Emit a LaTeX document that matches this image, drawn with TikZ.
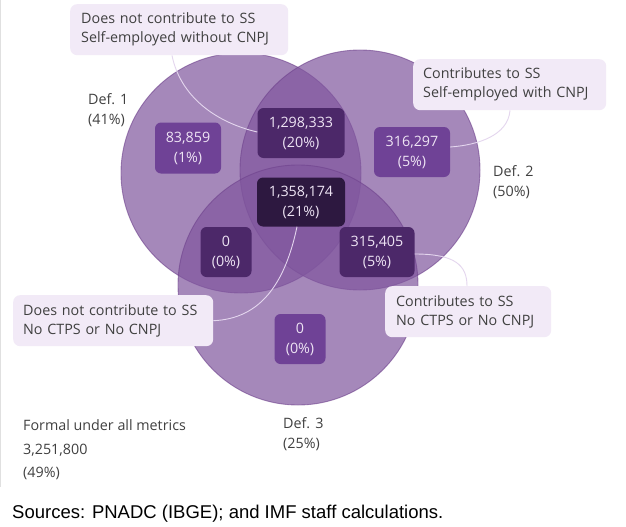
\documentclass[tikz,border=0pt]{standalone}
\usepackage{fontspec}
\setmainfont{Open Sans}
\newfontfamily\srcfont{Liberation Sans}
\usetikzlibrary{calc}
\definecolor{circfill}{RGB}{128,86,158}
\definecolor{circline}{RGB}{110,65,140}
\definecolor{boxA}{RGB}{111,66,150}
\definecolor{boxB}{RGB}{76,40,105}
\definecolor{boxC}{RGB}{45,24,64}
\definecolor{boxtext}{RGB}{238,228,244}
\definecolor{callfill}{RGB}{242,234,247}
\definecolor{leader}{RGB}{228,214,238}
\definecolor{labeltext}{RGB}{64,64,64}
\tikzset{
  venn/.style={fill=circfill, fill opacity=0.7, draw=circline, draw opacity=0.6, line width=0.9pt},
  valbox/.style={rounded corners=6pt, text=boxtext, align=center, inner sep=0pt,
    font=\fontsize{14.3}{20}\selectfont},
  callout/.style={rounded corners=7pt, fill=callfill, text=labeltext, align=left,
    anchor=north west, inner ysep=0pt, font=\fontsize{14.3}{19}\selectfont},
  lbl/.style={text=labeltext, align=left, anchor=west, inner sep=0pt,
    font=\fontsize{14.3}{20}\selectfont},
  leaderline/.style={draw=leader, line width=0.9pt}
}
\begin{document}
\begin{tikzpicture}[x=1pt,y=-1pt]
\useasboundingbox (0,0) rectangle (626,527);
\fill[white] (0,0) rectangle (626,527);
\draw[draw=black!12, line width=1.2pt] (0.6,0) -- (0.6,487);
% circles
\path[venn] (241,173) circle[radius=120];
\path[venn] (360,170) circle[radius=120];
\path[venn] (298,285) circle[radius=120];
% value boxes
\node[valbox, fill=boxA, minimum width=66, minimum height=51] (b1) at (188,148) {83,859\\(1\%)};
\node[valbox, fill=boxB, minimum width=87, minimum height=50] (b2) at (301,133) {1,298,333\\(20\%)};
\node[valbox, fill=boxC, minimum width=88, minimum height=49] (b3) at (301,202) {1,358,174\\(21\%)};
\node[valbox, fill=boxB, minimum width=51, minimum height=50] (b4) at (226,252) {0\\(0\%)};
\node[valbox, fill=boxA, minimum width=76, minimum height=50] (b5) at (412,152) {316,297\\(5\%)};
\node[valbox, fill=boxB, minimum width=75, minimum height=50] (b6) at (377,252) {315,405\\(5\%)};
\node[valbox, fill=boxA, minimum width=51, minimum height=50] (b7) at (300,339) {0\\(0\%)};
% callouts
\node[callout, inner xsep=11pt, text width=196, minimum height=51] (c1) at (70,4)
  {Does not contribute to SS\\Self-employed without CNPJ};
\node[callout, inner xsep=10pt, text width=173, minimum height=51] (c2) at (413,59)
  {Contributes to SS\\Self-employed with CNPJ};
\node[callout, inner xsep=10pt, text width=180, minimum height=51] (c3) at (13,295)
  {Does not contribute to SS\\No CTPS or No CNPJ};
\node[callout, inner xsep=11pt, text width=144, minimum height=51] (c4) at (385,286)
  {Contributes to SS\\No CTPS or No CNPJ};
% leaders
\draw[leaderline] ([xshift=102pt]c1.south west) .. controls +(8,40) and +(-43,-10) .. ([yshift=1pt]b2.west);
\draw[leaderline] ([xshift=97pt]c2.south west) .. controls +(-2,25) and +(28,-2) .. ([yshift=5pt]b5.east);
\draw[leaderline] ([xshift=-4pt]b3.south) .. controls +(-12,57) and +(47,-2) .. (c3.east);
\draw[leaderline] ([yshift=-2pt]b6.east) .. controls +(40,0) and +(0,-21) .. ([xshift=82pt]c4.north west);
% labels
\node[lbl] (d1) at (88,110) {Def. 1\\(41\%)};
\node[lbl] (d2) at (493,182) {Def. 2\\(50\%)};
\node[lbl] (d3) at (283,434) {Def. 3\\(25\%)};
\node[lbl, font=\fontsize{14.3}{23.5}\selectfont] (fm) at (23,450) {Formal under all metrics\\3,251,800\\(49\%)};
\node[anchor=west, inner sep=0pt, font=\srcfont\fontsize{18.5}{22}\selectfont, text=black] (src) at (12,514)
  {Sources: PNADC (IBGE); and IMF staff calculations.};
\end{tikzpicture}
\end{document}
